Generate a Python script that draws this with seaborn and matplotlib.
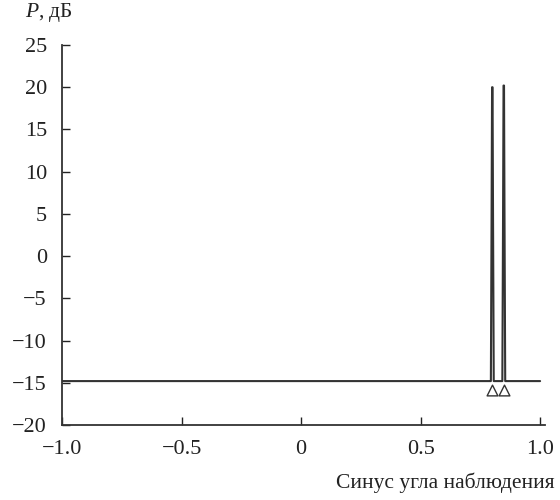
import matplotlib
matplotlib.use('Agg')
import matplotlib.pyplot as plt
import pandas as pd
import seaborn as sns

# ----------------------------------------------------------------------------------------------------------------------
# Data: noise floor and two narrow spikes near sin = 0.80 and 0.85

sin_angle = [-1.0, 0.790, 0.794, 0.797, 0.799, 0.801, 0.803, 0.806, 0.810,
             0.838, 0.842, 0.845, 0.847, 0.849, 0.851, 0.854, 0.858, 1.0]
power_db = [-14.8, -14.8, -14.8, 5.0, 20.0, 20.0, 5.0, -14.8, -14.8,
            -14.8, -14.8, 5.0, 20.2, 20.2, 5.0, -14.8, -14.8, -14.8]

marker_x = [0.800, 0.848]
marker_y = [-15.9, -15.9]

x_ticks = [-1.0, -0.5, 0.0, 0.5, 1.0]
x_tick_labels = ['\u22121.0', '\u22120.5', '0', '0.5', '1.0']
y_ticks = [-20, -15, -10, -5, 0, 5, 10, 15, 20, 25]

curve_df = pd.DataFrame({'x': sin_angle, 'y': power_db})
marker_df = pd.DataFrame({'x': marker_x, 'y': marker_y})

# ----------------------------------------------------------------------------------------------------------------------
# Plot
sns.set_theme(style='ticks')
plt.rcParams['font.family'] = ['Liberation Serif', 'DejaVu Serif']
plt.rcParams['mathtext.fontset'] = 'custom'
plt.rcParams['mathtext.it'] = 'Liberation Serif:italic'
plt.rcParams['mathtext.rm'] = 'Liberation Serif'

fig = plt.figure(figsize=(5.6, 5.0), dpi=100)
ax = fig.add_axes([0.111, 0.15, 0.862, 0.76])

sns.lineplot(data=curve_df, x='x', y='y', sort=False, color='#333333', linewidth=1.5, ax=ax)
sns.scatterplot(data=marker_df, x='x', y='y', marker='^', s=60, facecolor='white',
                edgecolor='#333333', linewidth=1.0, zorder=3, ax=ax)

ax.set_xlim(-1.0, 1.02)
ax.set_ylim(-20, 25)
ax.set_xticks(x_ticks)
ax.set_xticklabels(x_tick_labels)
ax.set_yticks(y_ticks)
ax.set_yticklabels([str(v).replace('-', '\u2212') for v in y_ticks])
ax.tick_params(direction='in', length=6, width=1, labelsize=16, colors='#222222')
ax.tick_params(axis='x', pad=11)
ax.tick_params(axis='y', pad=11)

sns.despine(ax=ax)
for side in ['left', 'bottom']:
    ax.spines[side].set_color('#333333')
    ax.spines[side].set_linewidth(1.3)

ax.set_xlabel('')
ax.set_ylabel('')
fig.text(0.99, 0.035, 'Синус угла наблюдения', ha='right', va='center', fontsize=15.5, color='#222222')
fig.text(0.045, 0.975, r'$\mathit{P}$, дБ', ha='left', va='center', fontsize=15.5, color='#222222')

fig.savefig('out.png', dpi=100)
